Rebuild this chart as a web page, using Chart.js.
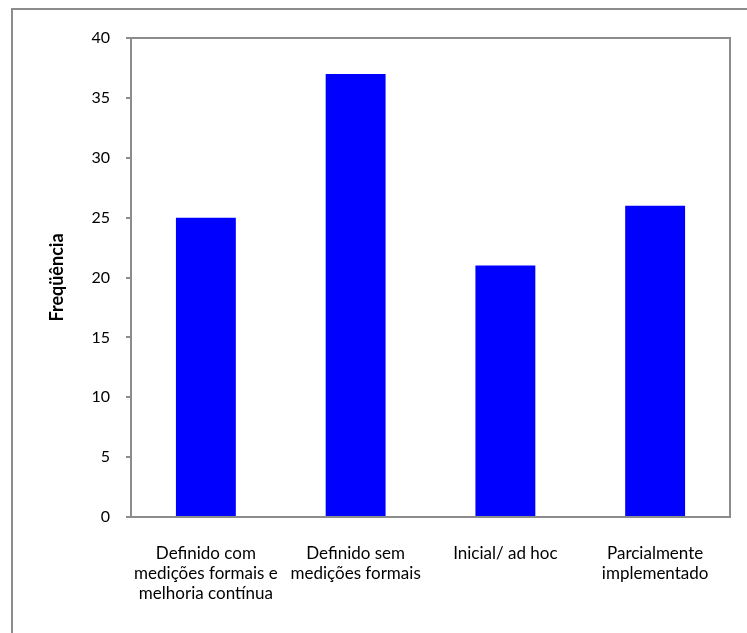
<!DOCTYPE html>
<html>
<head>
  <title>Freqüência</title>
  <script src="https://cdn.jsdelivr.net/npm/chart.js"></script>
  <style>
    body { margin: 0; background: #fff; }
    #wrap { position: relative; width: 747px; height: 633px; }
  </style>
</head>
<body>
  <div id="wrap"><canvas id="chart"></canvas></div>

  <script>
    const categories = [
      ['Definido com', 'medições formais e', 'melhoria contínua'],
      ['Definido sem', 'medições formais'],
      ['Inicial/ ad hoc'],
      ['Parcialmente', 'implementado']
    ];
    const frequencias = [25, 37, 21, 26];
    const yTicks = { min: 0, max: 40, step: 5 };

    // outer frame (only top & left visible in the original) + box round the plot
    const frames = {
      id: 'frames',
      beforeDraw(chart) {
        const c = chart.ctx;
        c.save();
        c.strokeStyle = '#8c8c8c';
        c.lineWidth = 2;
        c.beginPath();
        c.moveTo(12, 640);
        c.lineTo(12, 9);
        c.lineTo(760, 9);
        c.stroke();
        c.restore();
      },
      afterDraw(chart) {
        const a = chart.chartArea;
        const c = chart.ctx;
        c.save();
        c.strokeStyle = '#8c8c8c';
        c.lineWidth = 2;
        c.strokeRect(a.left, a.top, a.right - a.left, a.bottom - a.top);
        c.restore();
      }
    };

    Chart.defaults.font.family = 'Lato, "Open Sans", sans-serif';
    Chart.defaults.font.size = 15;
    Chart.defaults.color = '#000';

    new Chart(document.getElementById('chart'), {
      type: 'bar',
      data: {
        labels: categories,
        datasets: [{
          data: frequencias,
          backgroundColor: '#0000ff',
          barPercentage: 0.4,
          categoryPercentage: 1
        }]
      },
      options: {
        responsive: true,
        maintainAspectRatio: false,
        animation: false,
        layout: { padding: { top: 38, right: 17, left: 0, bottom: 0 } },
        plugins: { legend: { display: false }, tooltip: { enabled: false } },
        scales: {
          x: {
            grid: { display: false },
            border: { display: true, color: '#8c8c8c', width: 2 },
            ticks: { padding: 18, maxRotation: 0, autoSkip: false, font: { size: 17, lineHeight: 1.2 } },
            afterFit(s) { s.height = 116; }
          },
          y: {
            min: yTicks.min,
            max: yTicks.max,
            grid: { drawOnChartArea: false, tickLength: 5, color: '#8c8c8c', lineWidth: 2 },
            border: { display: true, color: '#8c8c8c', width: 2 },
            ticks: { stepSize: yTicks.step, padding: 16, font: { size: 16 } },
            title: {
              display: true,
              text: 'Freqüência',
              font: { weight: 'bold', size: 18 },
              padding: { top: 46, bottom: 0 }
            },
            afterFit(s) { s.width = 131; }
          }
        }
      },
      plugins: [frames]
    });
  </script>
</body>
</html>
